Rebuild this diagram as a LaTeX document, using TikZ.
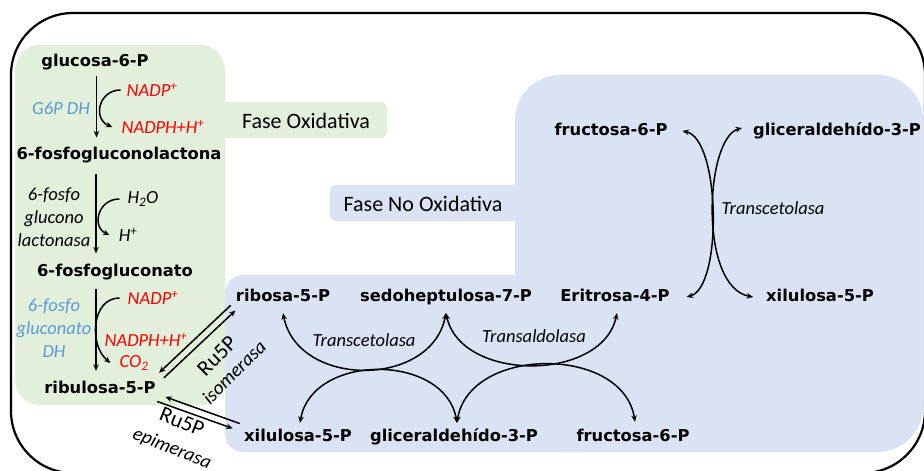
\documentclass[tikz,border=0pt]{standalone}
\usepackage{fontspec}
\setmainfont{Carlito}
\newfontfamily\metfont{DejaVu Sans}
\usetikzlibrary{arrows.meta,calc}

\definecolor{oxgreen}{RGB}{226,239,218}
\definecolor{nonoxblue}{RGB}{218,227,243}
\definecolor{enzblue}{RGB}{91,155,213}
\definecolor{cofred}{RGB}{255,0,0}

\begin{document}
\begin{tikzpicture}[x=1pt,y=-1pt,
  met/.style={font=\metfont\bfseries\fontsize{16.3}{18}\selectfont,
              text height=12.4pt, text depth=3.9pt, inner sep=0pt, outer sep=0pt},
  lbl/.style={font=\itshape\fontsize{18.5}{22}\selectfont, inner sep=0pt},
  enz/.style={font=\itshape\fontsize{18.5}{23}\selectfont, inner sep=0pt, align=center},
  phase/.style={font=\fontsize{22}{24}\selectfont, inner sep=0pt},
  runame/.style={font=\fontsize{22}{24}\selectfont, inner sep=0pt},
  rutype/.style={font=\itshape\fontsize{19.5}{22}\selectfont, inner sep=0pt},
  flow/.style={line width=1.5pt, -{Stealth[length=6.5pt,width=5.5pt]}},
  both/.style={line width=1.5pt, {Stealth[length=6.5pt,width=5.5pt]}-{Stealth[length=6.5pt,width=5.5pt]}},
]
\useasboundingbox (0,0) rectangle (924,471);

% phase panels
\fill[oxgreen, rounded corners=25pt] (15,45) rectangle (225,405);
\fill[oxgreen, rounded corners=6pt] (210,102) rectangle (387,138);
\fill[nonoxblue, rounded corners=45pt] (515,75) rectangle (923,452);
\fill[nonoxblue, rounded corners=18pt] (225,275) rectangle (600,452);
\fill[nonoxblue, rounded corners=6pt] (330,185) rectangle (530,221);

% outer frame
\draw[line width=2.2pt, rounded corners=62pt] (11,13) rectangle (925,473);

% phase titles
\node[phase] (foxlab) at (306,121) {Fase Oxidativa};
\node[phase] (fnoxlab) at (423,204) {Fase No Oxidativa};

% metabolites
\node[met] (glc)  at (95,62.5)  {glucosa-6-P};
\node[met] (lac)  at (119,155.5) {6-fosfogluconolactona};
\node[met] (pgl)  at (115,272.5) {6-fosfogluconato};
\node[met] (ru5p) at (100,389) {ribulosa-5-P};
\node[met] (r5p)  at (283,297) {ribosa-5-P};
\node[met] (s7p)  at (446,297) {sedoheptulosa-7-P};
\node[met] (e4p)  at (615,297) {Eritrosa-4-P};
\node[met] (x5p)  at (298,437) {xilulosa-5-P};
\node[met] (g3p)  at (454,437) {gliceraldehído-3-P};
\node[met] (f6p)  at (633,437) {fructosa-6-P};
\node[met] (f6pT) at (611,131) {fructosa-6-P};
\node[met] (g3pT) at (837,131) {gliceraldehído-3-P};
\node[met] (x5pR) at (820,297) {xilulosa-5-P};

% cofactors
\node[lbl, cofred] (nadp1)  at (152,90)  {NADP\textsuperscript{+}};
\node[lbl, cofred] (nadph1) at (163,127) {NADPH+H\textsuperscript{+}};
\node[lbl]         (water)  at (143,199) {H\textsubscript{2}O};
\node[lbl]         (proton) at (128,235) {H\textsuperscript{+}};
\node[lbl, cofred] (nadp2)  at (153,298) {NADP\textsuperscript{+}};
\node[lbl, cofred] (nadph2) at (146,340) {NADPH+H\textsuperscript{+}};
\node[lbl, cofred] (co2)    at (134,363) {CO\textsubscript{2}};

% enzymes
\node[lbl, enzblue] (g6pdh) at (61,108) {G6P DH};
\node[enz] (lactonase) at (54,217) {6-fosfo\\glucono\\lactonasa};
\node[enz, enzblue] (pgdh) at (54,328) {6-fosfo\\gluconato\\DH};
\node[lbl] (tk1) at (364,340) {Transcetolasa};
\node[lbl] (ta)  at (534,336) {Transaldolasa};
\node[lbl] (tk2) at (773,208) {Transcetolasa};
\node[runame, rotate=45] (ru5piso) at (217,356) {Ru5P};
\node[rutype, rotate=45] (iso) at (234,372) {isomerasa};
\node[runame, rotate=-22] (ru5pepi) at (182,422) {Ru5P};
\node[rutype, rotate=-22] (epi) at (172,449) {epimerasa};

% oxidative steps
\coordinate (ax1) at (96.5,0);
\coordinate (ax2) at (96,0);
\draw[flow] ($(glc.south -| ax1)+(0,5.5)$) -- ($(lac.north -| ax1)+(0,-10)$);
\draw[flow] ($(lac.south -| ax2)+(0,10)$) -- ($(pgl.north -| ax2)+(0,-11)$);
\draw[flow] ($(pgl.south -| ax2)+(0,8)$) -- ($(ru5p.north -| ax2)+(0,-10)$);

\draw[flow] ($(nadp1.west)+(-6,0)$) .. controls +(-22,0) and +(-20,-8) .. ($(nadph1.west)+(-9,0)$);
\draw[flow] ($(water.west)+(-8,0)$) .. controls +(-22,0) and +(-18,-8) .. ($(proton.west)+(-9,0)$);
\draw[flow] ($(nadp2.west)+(-8,0)$) .. controls +(-28,0) and +(-22,-18) .. ($(co2.west)+(-9,0)$);

% isomerase and epimerase
\draw[flow, shorten <=8pt, shorten >=4pt]
  ($(ru5p.north east)!3.5pt!-90:(r5p.south west)$) -- ($(r5p.south west)!3.5pt!90:(ru5p.north east)$);
\draw[flow, shorten <=4pt, shorten >=8pt]
  ($(r5p.south west)!3.5pt!-90:(ru5p.north east)$) -- ($(ru5p.north east)!3.5pt!90:(r5p.south west)$);
\draw[flow, shorten <=3pt, shorten >=11pt]
  ($(ru5p.south east)!3.5pt!-90:(x5p.north west)$) -- ($(x5p.north west)!3.5pt!90:(ru5p.south east)$);
\draw[flow, shorten <=6pt, shorten >=9pt]
  ($(x5p.north west)!3.5pt!-90:(ru5p.south east)$) -- ($(ru5p.south east)!3.5pt!90:(x5p.north west)$);

% non-oxidative exchanges
\draw[both] ($(r5p.south)+(0,8)$) .. controls +(15,75) and +(-15,75) .. ($(s7p.south)+(0,8)$);
\draw[both] ($(x5p.north)+(2,-6)$) .. controls +(12,-70) and +(-12,-70) .. ($(g3p.north)+(3,-6)$);
\draw[both] ($(s7p.south)+(0,8)$) .. controls +(15,69) and +(-15,69) .. ($(e4p.south)+(2,8)$);
\draw[both] ($(g3p.north)+(3,-6)$) .. controls +(12,-77) and +(-12,-77) .. ($(f6p.north)+(2,-7)$);

\draw[both] ($(f6pT.east)+(15,0)$) .. controls +(38,8) and +(36,-10) .. ($(e4p.east)+(17,0)$);
\draw[both] ($(g3pT.west)+(-11,-3)$) .. controls +(-37,10) and +(-55,-10) .. ($(x5pR.west)+(-13,0)$);
\end{tikzpicture}
\end{document}
